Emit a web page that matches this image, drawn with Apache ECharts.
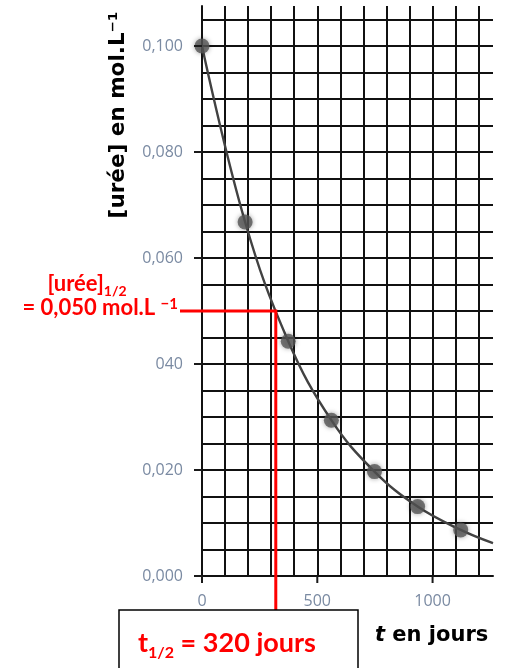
<!DOCTYPE html>
<html><head><meta charset="utf-8">
<script src="https://cdn.jsdelivr.net/npm/echarts@6/dist/echarts.min.js"></script>
<style>html,body{margin:0;padding:0;background:#fff}#c{width:505px;height:668px}</style>
</head><body><div id="c"></div>
<script>
// ---- data ----
const timeDays = [0, 187, 374, 561, 748, 935, 1122];
const ureeConc = [0.100, 0.0668, 0.0443, 0.0294, 0.0197, 0.0131, 0.0087];
const curveTail = [[1262, 0.0062]];
const yTickValues = [0, 0.02, 0.04, 0.06, 0.08, 0.10];
const yTickLabels = ['0,000', '0,020', '040', '0,060', '0,080', '0,100'];
const xTickValues = [0, 500, 1000];
const xTickLabels = ['0', '500', '1000'];
const halfLife = 320;
const halfConc = 0.050;

const chart = echarts.init(document.getElementById('c'), null, {renderer: 'canvas'});
const pts = timeDays.map((t, i) => [t, ureeConc[i]]);
const gridLine = {show: true, showMinLine: true, showMaxLine: false, lineStyle: {color: '#111', width: 2}};
const tickFont = {color: '#7a8aa2', fontFamily: 'Open Sans', fontSize: 16};
const X_MAX = 1262, Y_MAX = 0.10755;
const G = {left: 202, right: 12, top: 6, bottom: 92};
const plotW = 505 - G.left - G.right, plotH = 668 - G.top - G.bottom;
const xLabMax = xTickValues[xTickValues.length - 1], yLabMax = yTickValues[yTickValues.length - 1];
// second grid: same scale, trimmed to the labelled range (labels only)
const G2 = {left: G.left, bottom: G.bottom,
  right: G.right + plotW * (1 - xLabMax / X_MAX), top: G.top + plotH * (1 - yLabMax / Y_MAX)};

chart.setOption({
  animation: false,
  backgroundColor: '#fff',
  grid: [G, G2],
  xAxis: [{
    gridIndex: 0, type: 'value', min: 0, max: X_MAX, interval: 100,
    splitLine: gridLine,
    axisLine: {show: true, lineStyle: {color: '#111', width: 2}},
    axisTick: {show: false}, axisLabel: {show: false}
  }, {
    gridIndex: 1, type: 'value', min: 0, max: xLabMax, interval: 500,
    splitLine: {show: false}, axisLine: {show: false}, axisTick: {show: false},
    axisLabel: Object.assign({margin: 17,
      formatter: v => xTickLabels[xTickValues.indexOf(v)] ?? ''}, tickFont)
  }],
  yAxis: [{
    gridIndex: 0, type: 'value', min: 0, max: Y_MAX, interval: 0.005,
    splitLine: gridLine,
    axisLine: {show: true, lineStyle: {color: '#111', width: 2}},
    axisTick: {show: false}, axisLabel: {show: false}
  }, {
    gridIndex: 1, type: 'value', min: 0, max: yLabMax, interval: 0.02,
    splitLine: {show: false}, axisLine: {show: false}, axisTick: {show: false},
    axisLabel: Object.assign({margin: 19,
      formatter: v => { const i = yTickValues.findIndex(x => Math.abs(x - v) < 1e-9); return i >= 0 ? yTickLabels[i] : ''; }}, tickFont)
  }],
  series: [
    {
      type: 'line', xAxisIndex: 0, yAxisIndex: 0, data: pts.concat(curveTail), smooth: 0.4, showSymbol: false,
      lineStyle: {color: '#424242', width: 2.4}, z: 3
    },
    {
      type: 'scatter', xAxisIndex: 0, yAxisIndex: 0, data: pts, symbolSize: 15,
      itemStyle: {color: '#565656', shadowBlur: 5, shadowColor: 'rgba(0,0,0,0.45)'}, z: 4
    }
  ]
});

// tick marks placed through the chart's own scales
const ticks = [];
const origin = chart.convertToPixel({gridIndex: 0}, [0, 0]);
yTickValues.forEach((v, i) => {
  const q = chart.convertToPixel({gridIndex: 0}, [0, v]);
  ticks.push({type: 'rect', id: 'yt' + i, z: 120, shape: {x: origin[0] - 8, y: q[1] - 1, width: 8, height: 2},
    style: {fill: '#1a1a1a'}});
});
xTickValues.forEach((v, i) => {
  const q = chart.convertToPixel({gridIndex: 0}, [v, 0]);
  ticks.push({type: 'rect', id: 'xt' + i, z: 120, shape: {x: q[0] - 1, y: origin[1], width: 2, height: 7},
    style: {fill: '#1a1a1a'}});
});

const p = chart.convertToPixel({gridIndex: 0}, [halfLife, halfConc]);
chart.setOption({
  graphic: ticks.concat([
    {type: 'polyline', id: 'half', z: 100, shape: {points: [[180, p[1]], [p[0], p[1]], [p[0], 610]]},
      style: {stroke: '#ff0000', lineWidth: 3, fill: null}},
    {type: 'rect', id: 'box', z: 101, shape: {x: 119, y: 610, width: 239, height: 80},
      style: {fill: '#fff', stroke: '#000', lineWidth: 1.5}},
    {type: 'text', id: 't1', z: 102, x: 138, y: 643,
      style: {text: '{m|t}{s|1/2}{m| = 320 jours}', verticalAlign: 'middle',
        rich: {m: {fontFamily: 'Lato', fontWeight: 'bold', fontSize: 27, fill: '#ff0000'},
               s: {fontFamily: 'Lato', fontWeight: 'bold', fontSize: 16, fill: '#ff0000', verticalAlign: 'bottom', padding: [0, 0, -4, 0]}}}},
    {type: 'text', id: 't2', z: 102, x: 375, y: 636,
      style: {text: '{i|t}{n| en jours}', verticalAlign: 'middle',
        rich: {i: {fontFamily: 'DejaVu Sans', fontStyle: 'italic', fontWeight: 'bold', fontSize: 21, fill: '#000'},
               n: {fontFamily: 'DejaVu Sans', fontWeight: 'bold', fontSize: 21, fill: '#000'}}}},
    {type: 'text', id: 't3', z: 102, x: 118, y: 115, rotation: Math.PI / 2,
      style: {text: '[urée] en mol.L⁻¹', align: 'center', verticalAlign: 'middle',
        fontFamily: 'DejaVu Sans', fontWeight: 'bold', fontSize: 21.5, fill: '#000'}},
    {type: 'text', id: 't4', z: 102, x: 87, y: 284,
      style: {text: '{m|[urée]}{s|1/2}', align: 'center', verticalAlign: 'middle',
        rich: {m: {fontFamily: 'Lato', fontWeight: 'bold', fontSize: 22, fill: '#ff0000'},
               s: {fontFamily: 'Lato', fontWeight: 'bold', fontSize: 14, fill: '#ff0000', verticalAlign: 'bottom', padding: [0, 0, -3, 0]}}}},
    {type: 'text', id: 't5', z: 102, x: 178, y: 308,
      style: {text: '{m|= 0,050 mol.L }{s|−1}', align: 'right', verticalAlign: 'middle',
        rich: {m: {fontFamily: 'Lato', fontWeight: 'bold', fontSize: 22, fill: '#ff0000'},
               s: {fontFamily: 'Lato', fontWeight: 'bold', fontSize: 15, fill: '#ff0000', verticalAlign: 'top', padding: [0, 0, 7, 0]}}}}
  ])
});
</script>
</body></html>
